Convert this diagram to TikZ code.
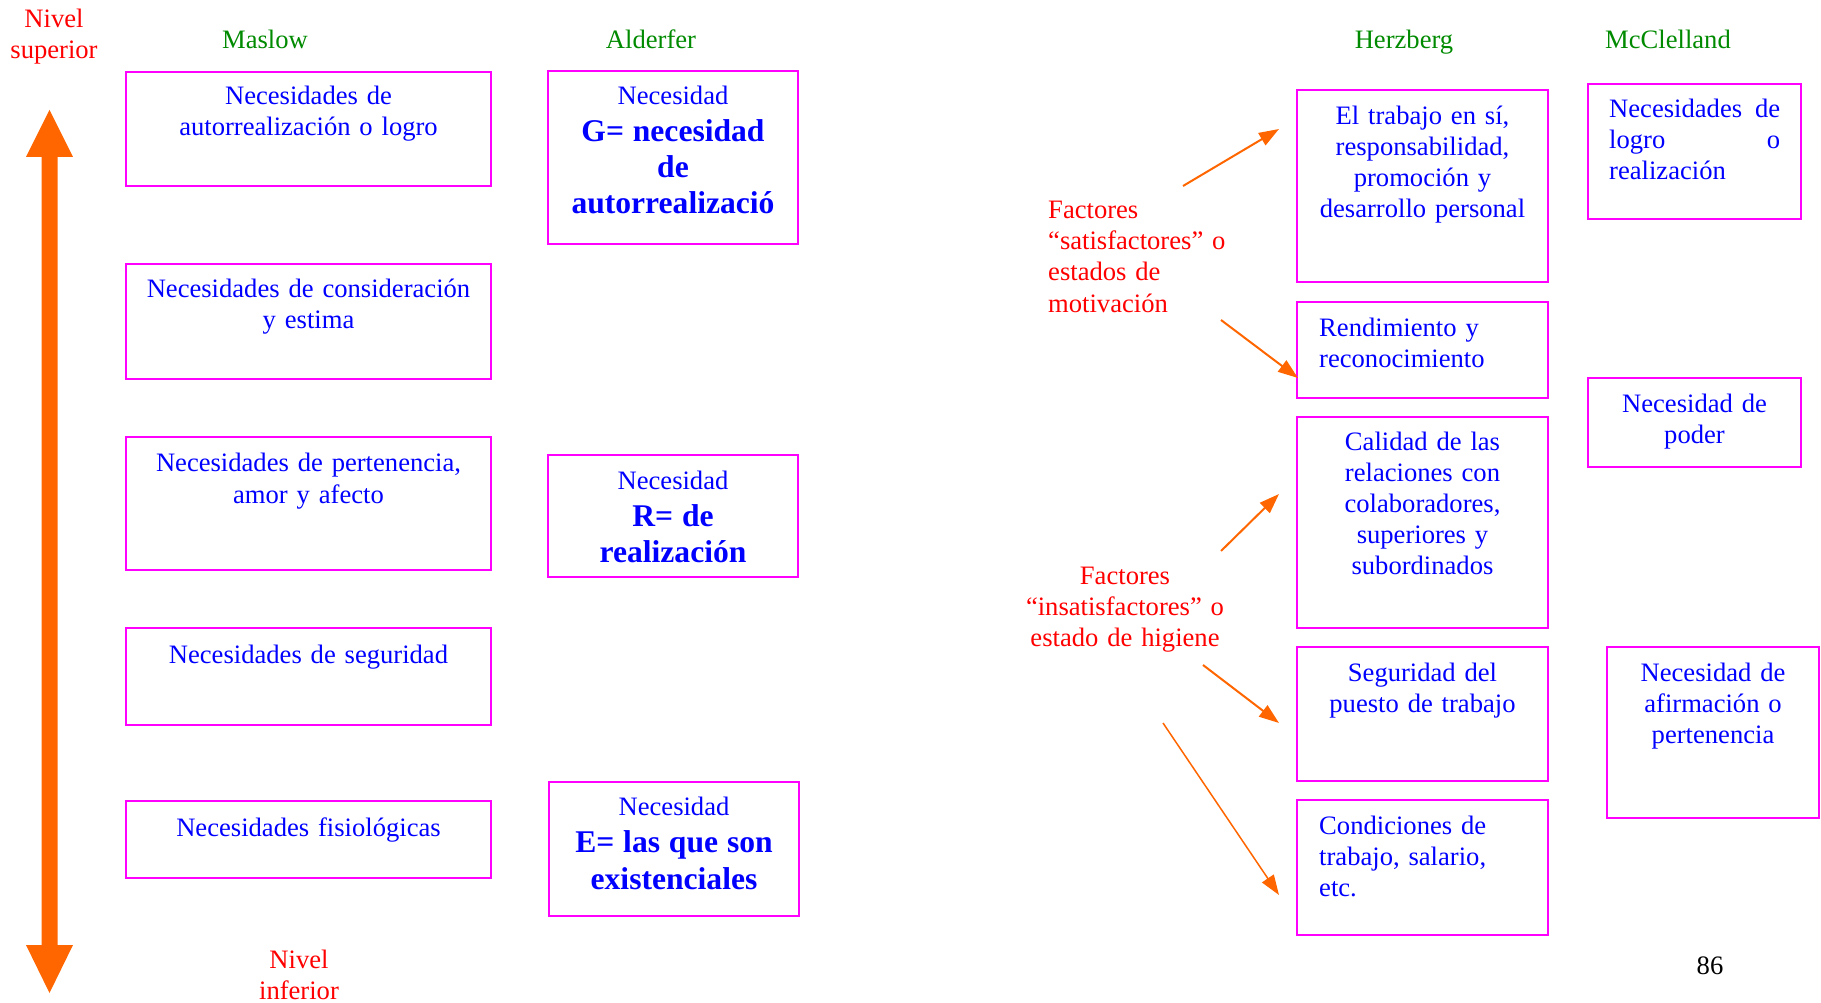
\documentclass[tikz,border=0pt]{standalone}
\usepackage{fontspec}
\setmainfont{Liberation Serif}
\usetikzlibrary{arrows.meta}
\definecolor{txtblue}{HTML}{0000FF}
\definecolor{boxmag}{HTML}{FF00FF}
\definecolor{lblred}{HTML}{FF0000}
\definecolor{ttlgreen}{HTML}{008A00}
\definecolor{arrorange}{HTML}{FF6600}
\newcommand{\regfont}{\fontsize{26.6}{31}\selectfont}
\newcommand{\boldbig}{\fontsize{31.6}{36.5}\selectfont\bfseries}
\tikzset{
  needbox/.style={draw=boxmag, line width=2pt, rectangle, inner sep=0pt},
  ctext/.style={text=txtblue, font=\regfont, inner sep=0pt, align=center, anchor=base, text width=#1},
  ctext/.default=360pt,
  ltext/.style={text=txtblue, font=\regfont, inner sep=0pt, align=left, anchor=base west, text width=#1},
  ttl/.style={text=ttlgreen, font=\regfont, inner sep=0pt, anchor=base},
  redlbl/.style={text=lblred, font=\regfont, inner sep=0pt, align=center, anchor=base, text width=#1},
  redlbl/.default=240pt,
  factor/.style={draw=arrorange, line width=2pt, -{Triangle[length=20pt,width=14pt]}},
}
\begin{document}
\begin{tikzpicture}[x=1pt,y=-1pt]
\useasboundingbox (0,0) rectangle (1821,1003);

% vertical scale of levels
\coordinate (levtop) at (49.5,110);
\coordinate (levbot) at (49.5,993);
\fill[arrorange] (levtop) -- (73,157) -- (57.5,157) -- (57.5,945) -- (73,945)
  -- (levbot) -- (26,945) -- (41.5,945) -- (41.5,157) -- (26,157) -- cycle;
\node[redlbl=100pt] (nivsup) at (54,28) {Nivel\\superior};
\node[redlbl=100pt] (nivinf) at (299,968) {Nivel\\inferior};

% column titles
\node[ttl] (tmaslow) at (265,49) {Maslow};
\node[ttl] (talderfer) at (651,49) {Alderfer};
\node[ttl] (therzberg) at (1404,49) {Herzberg};
\node[ttl] (tmcclelland) at (1668,49) {McClelland};

% Maslow
\draw[needbox] (126,72) rectangle (491,186);
\node[ctext] (m1) at (308.5,105) {Necesidades de\\autorrealización o logro};
\draw[needbox] (126,264) rectangle (491,379);
\node[ctext] (m2) at (308.5,297) {Necesidades de consideración\\[1pt]y estima};
\draw[needbox] (126,437) rectangle (491,570);
\node[ctext] (m3) at (308.5,471) {Necesidades de pertenencia,\\[1pt]amor y afecto};
\draw[needbox] (126,628) rectangle (491,725);
\node[ctext] (m4) at (308.5,663) {Necesidades de seguridad};
\draw[needbox] (126,801) rectangle (491,878);
\node[ctext] (m5) at (308.5,836) {Necesidades fisiológicas};

% Alderfer
\draw[needbox] (548,71) rectangle (798,244);
\node[ctext=240pt] (a1) at (673,105) {Necesidad\\[6pt]{\boldbig G= necesidad}\\[5pt]{\boldbig de}\\[5pt]{\boldbig autorrealizació}};
\draw[needbox] (548,455) rectangle (798,577);
\node[ctext=240pt] (a2) at (673,489) {Necesidad\\[6pt]{\boldbig R= de}\\[5pt]{\boldbig realización}};
\draw[needbox] (549,782) rectangle (799,916);
\node[ctext=240pt] (a3) at (674,815) {Necesidad\\[6pt]{\boldbig E= las que son}\\[6pt]{\boldbig existenciales}};

% Herzberg
\draw[needbox] (1297,90) rectangle (1548,282);
\node[ctext=240pt] (h1) at (1422.5,125) {El trabajo en sí,\\responsabilidad,\\promoción y\\desarrollo personal};
\draw[needbox] (1297,302) rectangle (1548,398);
\node[ltext=220pt] (h2) at (1319,336) {Rendimiento y\\reconocimiento};
\draw[needbox] (1297,417) rectangle (1548,628);
\node[ctext=240pt] (h3) at (1422.5,450) {Calidad de las\\relaciones con\\colaboradores,\\superiores y\\subordinados};
\draw[needbox] (1297,647) rectangle (1548,781);
\node[ctext=240pt] (h4) at (1422.5,681) {Seguridad del\\puesto de trabajo};
\draw[needbox] (1297,800) rectangle (1548,935);
\node[ltext=220pt] (h5) at (1319,834) {Condiciones de\\trabajo, salario,\\etc.};

% McClelland
\draw[needbox] (1588,84) rectangle (1801,219);
\node[ltext=171pt] (c1) at (1609,118) {Necesidades\hfill de\\logro\hfill o\\realización};
\draw[needbox] (1588,378) rectangle (1801,467);
\node[ctext=200pt] (c2) at (1694.5,412) {Necesidad de\\poder};
\draw[needbox] (1607,647) rectangle (1819,818);
\node[ctext=200pt] (c3) at (1713,681) {Necesidad de\\afirmación o\\pertenencia};

% Herzberg factor groups
\node[redlbl=220pt, align=left, anchor=base west] (sat) at (1048,219)
  {Factores\\“satisfactores” o\\estados de\\motivación};
\node[redlbl] (insat) at (1125,584)
  {Factores\\“insatisfactores” o\\estado de higiene};

\coordinate (s1a) at (1183,186); \coordinate (s1b) at (1279,129);
\coordinate (s2a) at (1221,320); \coordinate (s2b) at (1298,378);
\coordinate (i1a) at (1221,551); \coordinate (i1b) at (1279,494);
\coordinate (i2a) at (1203,665); \coordinate (i2b) at (1279,723);
\coordinate (i3a) at (1163,723); \coordinate (i3b) at (1279,895);
\draw[factor] (s1a) -- (s1b);
\draw[factor] (s2a) -- (s2b);
\draw[factor] (i1a) -- (i1b);
\draw[factor] (i2a) -- (i2b);
\draw[factor, line width=1.5pt] (i3a) -- (i3b);

% page number
\node[font=\regfont, inner sep=0pt, anchor=base] (pagenum) at (1710,974) {86};
\end{tikzpicture}
\end{document}
